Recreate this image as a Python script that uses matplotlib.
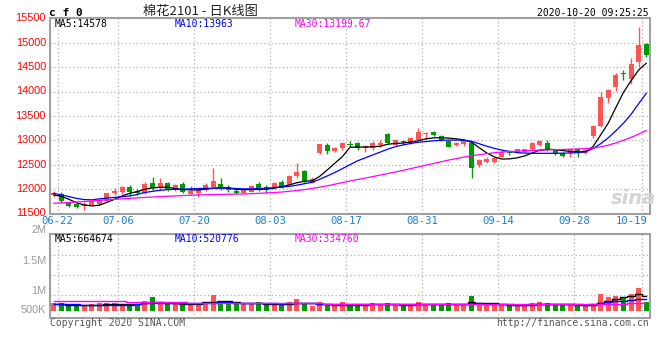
import matplotlib
matplotlib.use("Agg")
import matplotlib.pyplot as plt
import numpy as np

# ---- data ----
date_ticks = [1, 9, 19, 29, 39, 49, 59, 69, 78]
date_labels = ["06-22", "07-06", "07-20", "08-03", "08-17", "08-31", "09-14", "09-28", "10-19"]
price_ticks = [11500, 12000, 12500, 13000, 13500, 14000, 14500, 15000, 15500]

opens = [11880, 11900, 11723, 11703, 11655, 11676, 11690, 11758, 11915, 11949,
         12051, 11962, 11915, 12133, 12017, 12133, 11983, 12099, 11901, 11915,
         11983, 12051, 12106, 12051, 11969, 11928, 11949, 12099, 12038, 12017,
         12140, 12085, 12270, 12372, 12133, 12734, 12910, 12788, 12836, 12930,
         12939, 12836, 12836, 12904, 13123, 12904, 12986, 12939, 13006, 13123,
         13177, 13088, 12986, 12904, 12924, 12939, 12494, 12562, 12562, 12664,
         12760, 12767, 12767, 12816, 12904, 12939, 12802, 12734, 12734, 12816,
         12740, 13090, 13293, 13870, 14100, 14370, 14250, 14611, 14973]
highs = [11962, 11935, 11740, 11720, 11730, 11770, 11800, 11930, 12017, 12065,
         12085, 11997, 12140, 12256, 12222, 12150, 12100, 12140, 12065, 12017,
         12120, 12440, 12236, 12085, 11997, 12000, 12080, 12154, 12085, 12150,
         12188, 12290, 12543, 12393, 12256, 12930, 12940, 12870, 12960, 12980,
         12960, 12905, 12990, 13000, 13150, 13030, 13010, 13060, 13250, 13165,
         13200, 13100, 12990, 12960, 13000, 12960, 12620, 12660, 12660, 12800,
         12800, 12830, 12830, 12960, 13000, 13000, 12830, 12760, 12830, 12840,
         12830, 13320, 13996, 14050, 14373, 14440, 14680, 15328, 15000]
lows = [11846, 11725, 11640, 11620, 11573, 11665, 11680, 11745, 11880, 11900,
        11850, 11880, 11900, 11983, 11983, 11970, 11970, 11915, 11880, 11846,
        11962, 12017, 11983, 11949, 11901, 11915, 11940, 11969, 11915, 12000,
        12017, 12080, 12222, 12120, 12120, 12720, 12715, 12770, 12800, 12860,
        12800, 12755, 12800, 12870, 12920, 12890, 12930, 12920, 12990, 13028,
        13090, 12990, 12860, 12890, 12880, 12222, 12460, 12540, 12540, 12650,
        12700, 12734, 12740, 12800, 12890, 12790, 12690, 12660, 12650, 12650,
        12720, 13040, 13279, 13760, 14010, 14236, 14154, 14508, 14713]
closes = [11928, 11750, 11655, 11635, 11703, 11758, 11778, 11915, 11970, 12037,
          11949, 11915, 12110, 12031, 12133, 11983, 12085, 11949, 11962, 11983,
          12085, 12174, 12038, 11983, 11928, 11983, 12065, 12017, 11983, 12133,
          12031, 12277, 12359, 12140, 12201, 12919, 12790, 12836, 12939, 12910,
          12836, 12884, 12952, 12952, 12939, 13006, 12959, 13041, 13177, 13156,
          13109, 13006, 12870, 12952, 12986, 12426, 12597, 12610, 12644, 12767,
          12740, 12816, 12816, 12952, 12986, 12816, 12713, 12678, 12816, 12747,
          12800, 13300, 13885, 14030, 14338, 14350, 14564, 14953, 14748]

ma5 = [11880, 11850, 11790, 11720, 11675, 11655, 11670, 11730, 11790, 11860,
       11914, 11950, 11997, 12025, 12037, 12040, 12010, 11990, 11985, 11982,
       12000, 12017, 12030, 12020, 11995, 11990, 11990, 11995, 12000, 12017,
       12050, 12085, 12130, 12160, 12170, 12260, 12392, 12530, 12666, 12857,
       12860, 12862, 12865, 12880, 12920, 12935, 12945, 12965, 12990, 13030,
       13050, 13054, 13045, 13030, 13010, 12960, 12850, 12740, 12660, 12615,
       12620, 12640, 12680, 12740, 12800, 12816, 12810, 12790, 12770, 12765,
       12765, 12870, 13110, 13352, 13670, 13980, 14220, 14440, 14578]
ma10 = [11914, 11880, 11845, 11810, 11785, 11780, 11800, 11815, 11830, 11845,
        11860, 11890, 11930, 11955, 11975, 11990, 11997, 12000, 12005, 12010,
        12015, 12017, 12020, 12020, 12012, 12005, 12005, 12010, 12018, 12030,
        12045, 12055, 12080, 12110, 12140, 12200, 12270, 12340, 12420, 12500,
        12580, 12640, 12700, 12760, 12820, 12870, 12905, 12935, 12960, 12975,
        12990, 13000, 13005, 13005, 13000, 12980, 12930, 12880, 12835, 12800,
        12770, 12750, 12738, 12734, 12733, 12733, 12734, 12736, 12740, 12748,
        12765, 12830, 12930, 13050, 13195, 13350, 13530, 13750, 13963]
ma30 = [11710, 11718, 11726, 11735, 11745, 11758, 11770, 11780, 11790, 11800,
        11810, 11820, 11830, 11838, 11846, 11853, 11860, 11867, 11873, 11879,
        11884, 11888, 11891, 11894, 11897, 11900, 11906, 11914, 11922, 11930,
        11940, 11955, 11972, 11990, 12012, 12040, 12068, 12100, 12133, 12166,
        12196, 12226, 12256, 12288, 12320, 12352, 12385, 12420, 12455, 12490,
        12525, 12560, 12595, 12625, 12655, 12682, 12705, 12725, 12745, 12760,
        12770, 12778, 12785, 12792, 12798, 12803, 12808, 12813, 12818, 12823,
        12830, 12840, 12865, 12900, 12945, 13000, 13060, 13125, 13200]

# volume in millions of lots
volumes = [0.34, 0.34, 0.21, 0.21, 0.21, 0.30, 0.34, 0.34, 0.34, 0.29,
           0.26, 0.26, 0.44, 0.61, 0.34, 0.34, 0.34, 0.29, 0.26, 0.26,
           0.34, 0.70, 0.38, 0.44, 0.29, 0.29, 0.29, 0.38, 0.34, 0.34,
           0.29, 0.38, 0.52, 0.29, 0.21, 0.38, 0.26, 0.26, 0.38, 0.26,
           0.26, 0.21, 0.36, 0.26, 0.36, 0.26, 0.26, 0.26, 0.41, 0.26,
           0.26, 0.30, 0.34, 0.26, 0.26, 0.67, 0.26, 0.26, 0.26, 0.30,
           0.21, 0.21, 0.26, 0.36, 0.41, 0.36, 0.30, 0.26, 0.26, 0.21,
           0.26, 0.30, 0.76, 0.64, 0.67, 0.56, 0.76, 1.05, 0.40]
vol_ma5 = [0.30, 0.29, 0.27, 0.26, 0.26, 0.27, 0.28, 0.30, 0.32, 0.31,
           0.30, 0.32, 0.36, 0.38, 0.38, 0.36, 0.34, 0.32, 0.30, 0.30,
           0.38, 0.40, 0.42, 0.42, 0.40, 0.34, 0.33, 0.33, 0.32, 0.30,
           0.30, 0.31, 0.34, 0.36, 0.34, 0.30, 0.30, 0.28, 0.28, 0.27,
           0.27, 0.27, 0.29, 0.30, 0.30, 0.29, 0.28, 0.28, 0.31, 0.31,
           0.30, 0.29, 0.29, 0.30, 0.30, 0.38, 0.37, 0.35, 0.33, 0.31,
           0.26, 0.25, 0.25, 0.26, 0.30, 0.32, 0.32, 0.31, 0.30, 0.27,
           0.25, 0.26, 0.36, 0.45, 0.55, 0.63, 0.68, 0.76, 0.665]
vol_ma10 = [0.32, 0.31, 0.30, 0.29, 0.28, 0.28, 0.28, 0.28, 0.28, 0.28,
            0.28, 0.30, 0.33, 0.34, 0.35, 0.35, 0.34, 0.34, 0.33, 0.33,
            0.37, 0.37, 0.38, 0.38, 0.37, 0.34, 0.35, 0.35, 0.35, 0.34,
            0.32, 0.33, 0.35, 0.34, 0.33, 0.32, 0.32, 0.31, 0.31, 0.30,
            0.29, 0.29, 0.29, 0.29, 0.30, 0.30, 0.29, 0.29, 0.30, 0.30,
            0.30, 0.30, 0.30, 0.30, 0.30, 0.33, 0.33, 0.32, 0.32, 0.31,
            0.29, 0.28, 0.28, 0.29, 0.30, 0.32, 0.32, 0.31, 0.30, 0.29,
            0.28, 0.29, 0.34, 0.38, 0.42, 0.45, 0.48, 0.52, 0.52]
vol_ma30 = [0.45, 0.45, 0.45, 0.45, 0.45, 0.44, 0.44, 0.44, 0.43, 0.43,
            0.40, 0.40, 0.40, 0.39, 0.39, 0.39, 0.38, 0.38, 0.36, 0.36,
            0.35, 0.35, 0.35, 0.35, 0.34, 0.34, 0.34, 0.34, 0.33, 0.33,
            0.33, 0.33, 0.33, 0.33, 0.33, 0.33, 0.32, 0.32, 0.32, 0.32,
            0.32, 0.32, 0.32, 0.32, 0.32, 0.31, 0.31, 0.31, 0.31, 0.31,
            0.31, 0.31, 0.31, 0.31, 0.31, 0.31, 0.31, 0.31, 0.31, 0.30,
            0.30, 0.30, 0.30, 0.30, 0.30, 0.30, 0.30, 0.30, 0.30, 0.30,
            0.30, 0.30, 0.31, 0.31, 0.32, 0.32, 0.33, 0.33, 0.335]
vol_label_text = ["2M", "1.5M", "1M", "500K"]

# ---- styling ----
RED = "#ff5454"
GREEN = "#009a00"
GRID = "#b0b0b0"
BORDER = "#a0a0a0"
MONO = "DejaVu Sans Mono"
W, H = 660, 360

fig = plt.figure(figsize=(6.6, 3.6), dpi=100)
fig.patch.set_facecolor("white")


def box(l, t, r, b):
    return [l / W, 1 - b / H, (r - l) / W, (b - t) / H]


def ptext(x, y, s, **kw):
    kw.setdefault("va", "center")
    fig.text(x / W, 1 - y / H, s, **kw)


ax = fig.add_axes(box(50, 18.3, 650, 213.5))
axv = fig.add_axes(box(50, 234.3, 650, 317.7))

n = len(closes)
x = np.arange(n) + 0.5
o = np.array(opens)
c = np.array(closes)
up = c >= o
cols = [RED if u else GREEN for u in up]

# candles
ax.vlines(x, lows, highs, colors=cols, lw=1, zorder=3)
body = np.maximum(np.abs(c - o), 14)
ax.bar(x, body, bottom=np.minimum(o, c), width=0.66, color=cols, lw=0, zorder=4)
ax.plot(x, ma5, color="black", lw=0.9, zorder=5)
ax.plot(x, ma10, color="#0000ff", lw=0.9, zorder=5)
ax.plot(x, ma30, color="#ff00ff", lw=0.9, zorder=5)

ax.set_xlim(0, n)
ax.set_ylim(price_ticks[0], price_ticks[-1])
for p in price_ticks[1:-1]:
    ax.axhline(p, color=GRID, lw=0.9, ls=(0, (1, 2)), zorder=1)

# volume
axv.bar(x, volumes, width=0.66, color=cols, lw=0, zorder=3)
axv.plot(x, vol_ma5, color="black", lw=1, drawstyle="steps-mid", zorder=4)
axv.plot(x, vol_ma10, color="#0000ff", lw=1, drawstyle="steps-mid", zorder=4)
axv.plot(x, vol_ma30, color="#ff00ff", lw=1, drawstyle="steps-mid", zorder=4)
axv.set_xlim(0, n)
axv.set_ylim(-0.318, 3.47)
for vy in [255, 275, 295]:
    yv = (310.7 - vy) / 22.0
    axv.axhline(yv, color=GRID, lw=0.9, ls=(0, (1, 2)), zorder=1)

for a in (ax, axv):
    for t in date_ticks:
        a.axvline(t, color=GRID, lw=0.9, ls=(0, (1, 2)), zorder=1)
    a.set_xticks([])
    a.set_yticks([])
    for s in a.spines.values():
        s.set_color(BORDER)
        s.set_linewidth(1.5)

# price labels
for p in price_ticks:
    yp = 18.3 + (price_ticks[-1] - p) / 500 * 24.4
    ptext(46, yp, str(p), ha="right", color="red", fontsize=7.8,
          family="Liberation Sans")

# date labels
for t, lab in zip(date_ticks, date_labels):
    xp = 50 + t * 7.6
    if xp + 16 > 650:
        ptext(648, 221, lab, ha="right", color="#1a7fd0", fontsize=7.6, family=MONO)
    else:
        ptext(xp, 221, lab, ha="center", color="#1a7fd0", fontsize=7.6, family=MONO)

# volume labels
for lab, vy in zip(vol_label_text, [230.5, 261.5, 290.5, 310]):
    ptext(46, vy, lab, ha="right", color="#9a9a9a", fontsize=7.8, family="Liberation Sans")

# legends
ptext(55, 24, "MA5:14578", color="black", fontsize=7, family=MONO)
ptext(175, 24, "MA10:13963", color="#0000ff", fontsize=7, family=MONO)
ptext(295, 24, "MA30:13199.67", color="#ff00ff", fontsize=7, family=MONO)
ptext(55, 238.5, "MA5:664674", color="black", fontsize=7, family=MONO)
ptext(175, 238.5, "MA10:520776", color="#0000ff", fontsize=7, family=MONO)
ptext(295, 238.5, "MA30:334760", color="#ff00ff", fontsize=7, family=MONO)

# header / footer
ptext(49, 12.5, "c f 0", color="black", fontsize=8, family=MONO, weight="bold")
ptext(200, 11.5, "棉花2101 - 日K线图", ha="center", color="#222222", fontsize=9.5,
      family=["Noto Sans CJK SC", "DejaVu Sans"])
ptext(649, 12.5, "2020-10-20 09:25:25", ha="right", color="black", fontsize=7, family=MONO)
ptext(50, 323.5, "Copyright 2020 SINA.COM", color="#555555", fontsize=7, family=MONO)
ptext(649, 323.5, "http://finance.sina.com.cn", ha="right", color="#555555", fontsize=7,
      family=MONO)

# sina watermark
ptext(633, 198, "sina", ha="center", color="#d4d4d4", fontsize=14, style="italic",
      weight="bold", family="DejaVu Sans")

fig.savefig("out.png", dpi=100)
